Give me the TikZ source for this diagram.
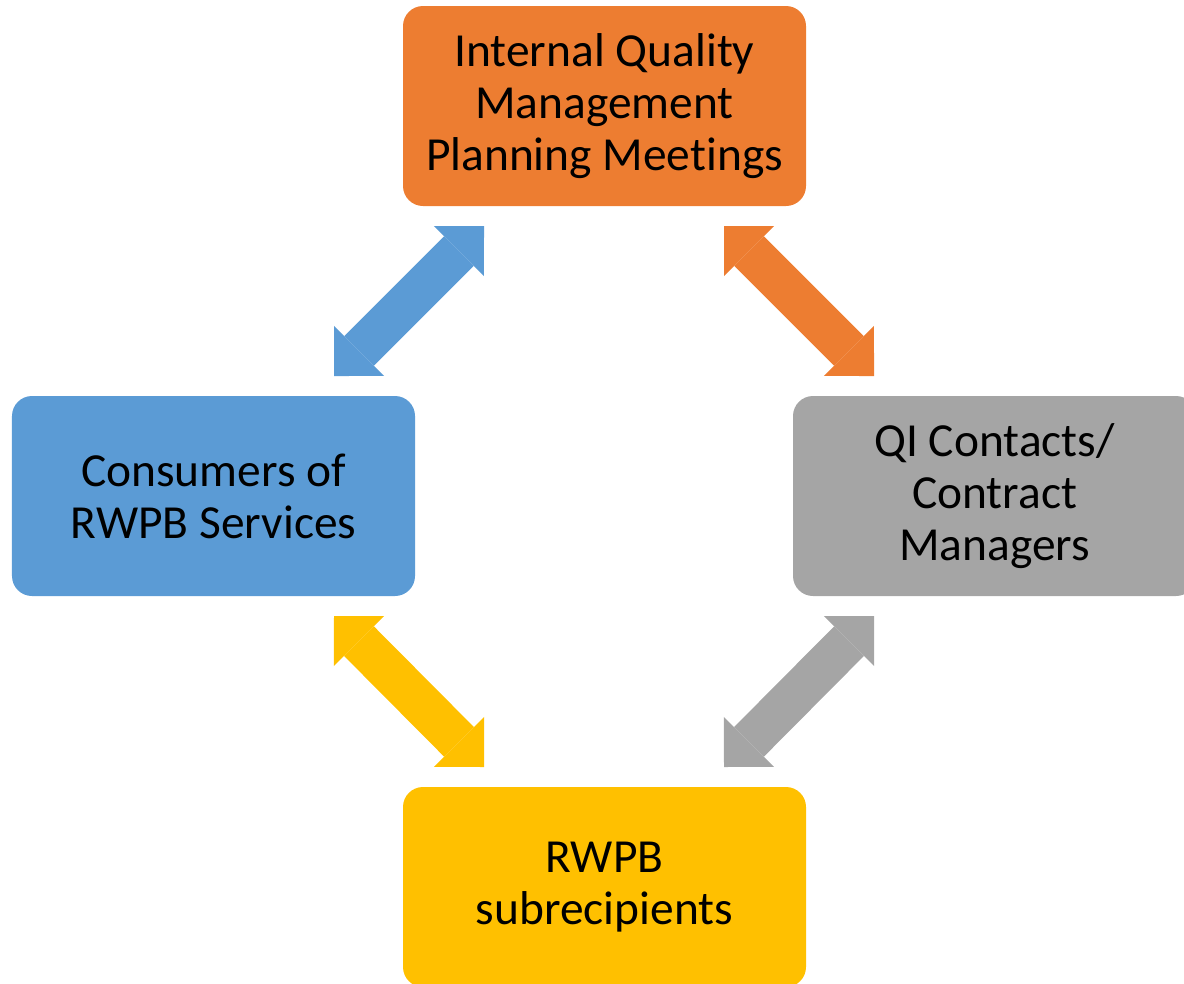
\documentclass[tikz,border=0pt]{standalone}
\usepackage{fontspec}
\setmainfont{Carlito}[Ligatures=NoCommon]
\usetikzlibrary{arrows.meta,calc}

\definecolor{qmorange}{HTML}{ED7D31}
\definecolor{qmblue}{HTML}{5B9BD5}
\definecolor{qmgray}{HTML}{A5A5A5}
\definecolor{qmyellow}{HTML}{FFC000}

\tikzset{
  card/.style={rounded corners=0.2cm, minimum width=4.03cm, minimum height=2cm,
    inner sep=0pt, outer sep=0pt, align=center,
    font=\fontsize{13.5pt}{14.8pt}\selectfont},
  twoway/.style={line width=0.42cm,
    arrows={Triangle[length=0.354cm,width=0.707cm,line width=0pt]-Triangle[length=0.354cm,width=0.707cm,line width=0pt]}}
}

\begin{document}
\begin{tikzpicture}
  \useasboundingbox (0, 0) rectangle (11.84, 9.83);
  \clip (0, 0) rectangle (11.84, 9.83);

  \node[card, fill=qmorange] (quality) at (6.045, 8.77)
    {Internal Quality\\Management\\Planning Meetings};
  \node[card, fill=qmblue] (consumers) at (2.135, 4.87)
    {Consumers of\\RWPB Services};
  \node[card, fill=qmgray] (contacts) at (9.945, 4.87)
    {QI Contacts/\\Contract\\Managers};
  \node[card, fill=qmyellow] (subrecip) at (6.045, 0.96)
    {RWPB\\subrecipients};

  \draw[twoway, qmblue]
    ($(quality.south west)+(0.81,-0.2)$) -- ($(consumers.north east)+(-0.81,0.2)$);
  \draw[twoway, qmorange]
    ($(quality.south east)+(-0.82,-0.2)$) -- ($(contacts.north west)+(0.81,0.2)$);
  \draw[twoway, qmyellow]
    ($(consumers.south east)+(-0.81,-0.2)$) -- ($(subrecip.north west)+(0.81,0.2)$);
  \draw[twoway, qmgray]
    ($(contacts.south west)+(0.81,-0.2)$) -- ($(subrecip.north east)+(-0.82,0.2)$);
\end{tikzpicture}
\end{document}
